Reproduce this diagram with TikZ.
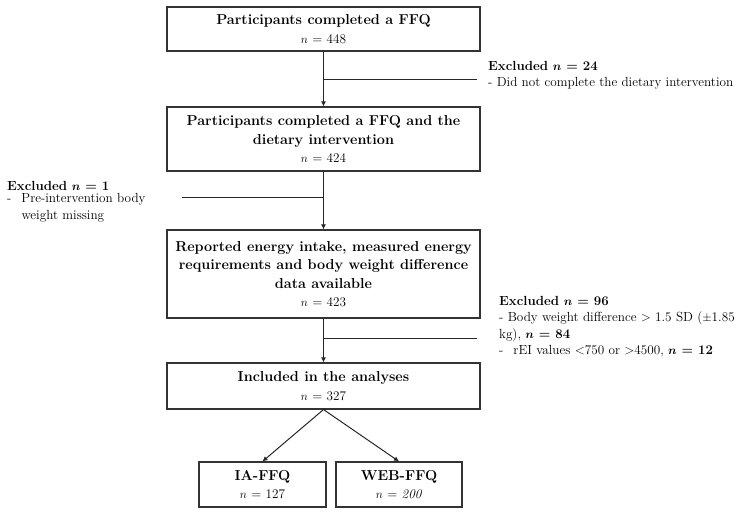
\documentclass[tikz,border=0pt]{standalone}
\usetikzlibrary{arrows.meta,calc}
\newcommand\ttl[1]{{\fontsize{14.4}{19}\selectfont\bfseries #1}}
\begin{document}
\begin{tikzpicture}[x=1pt,y=-1pt,
  every node/.style={font=\fontsize{13.2}{18.5}\selectfont, inner sep=0pt},
  boxn/.style={draw=black!80, line width=1.1pt, minimum width=313pt, align=center},
  smallbox/.style={draw=black!80, line width=1.1pt, align=center, minimum height=45pt},
  conn/.style={draw=black!85, line width=1pt},
  arr/.style={conn, -{Latex[length=5pt,width=5pt]}},
  side/.style={align=left, anchor=north west}]
\useasboundingbox (0,0) rectangle (737,516);
\node[boxn, minimum height=44pt] (b1) at (323.5,29) {\ttl{Participants completed a FFQ}\\$n$ = 448};
\node[boxn, minimum height=64pt] (b2) at (323.5,139) {\ttl{Participants completed a FFQ and the}\\\ttl{dietary intervention}\\$n$ = 424};
\node[boxn, minimum height=88pt] (b3) at (323.5,274) {\ttl{Reported energy intake, measured energy}\\\ttl{requirements and body weight difference}\\\ttl{data available}\\$n$ = 423};
\node[boxn, minimum height=46pt] (b4) at (323.5,386) {\ttl{Included in the analyses}\\$n$ = 327};
\node[smallbox, minimum width=127pt] (ia) at (262.5,484.5) {\ttl{IA-FFQ}\\$n$ = 127};
\node[smallbox, minimum width=126pt] (web) at (399,484.5) {\ttl{WEB-FFQ}\\$n$ = \textit{200}};

\draw[arr] (b1.south) -- (b2.north);
\draw[arr] (b2.south) -- (b3.north);
\draw[arr] (b3.south) -- (b4.north);
\draw[arr] (b4.south) -- (ia.north);
\draw[arr] (b4.south) -- (web.north);

\coordinate (j1) at (323.5,80);
\coordinate (e1) at (477,80);
\draw[conn] (j1) -- (e1);
\coordinate (j2) at (323.5,198);
\coordinate (e2) at (182,198);
\draw[conn] (j2) -- (e2);
\coordinate (j3) at (323.5,338);
\coordinate (e3) at (477,338);
\draw[conn] (j3) -- (e3);

\node[side] (x1) at (488,61) {\textbf{Excluded \boldmath$n$ = 24}\\[-2pt]- Did not complete the dietary intervention};
\node[side] (x2) at (7,181) {\textbf{Excluded \boldmath$n$ = 1}\\[-2pt]
\begin{tabular}{@{}l@{\hspace{10pt}}l@{}}-&Pre-intervention body\\[-1.5pt] &weight missing\end{tabular}};
\node[side] (x3) at (499,296) {\textbf{Excluded \boldmath$n$ = 96}\\[-2pt]- Body weight difference > 1.5 SD ($\pm$1.85\\[-2pt]kg), \textbf{\boldmath$n$ = 84}\\[-2pt]
-\hspace{10pt}rEI values <750 or >4500, \textbf{\boldmath$n$ = 12}};
\end{tikzpicture}
\end{document}
